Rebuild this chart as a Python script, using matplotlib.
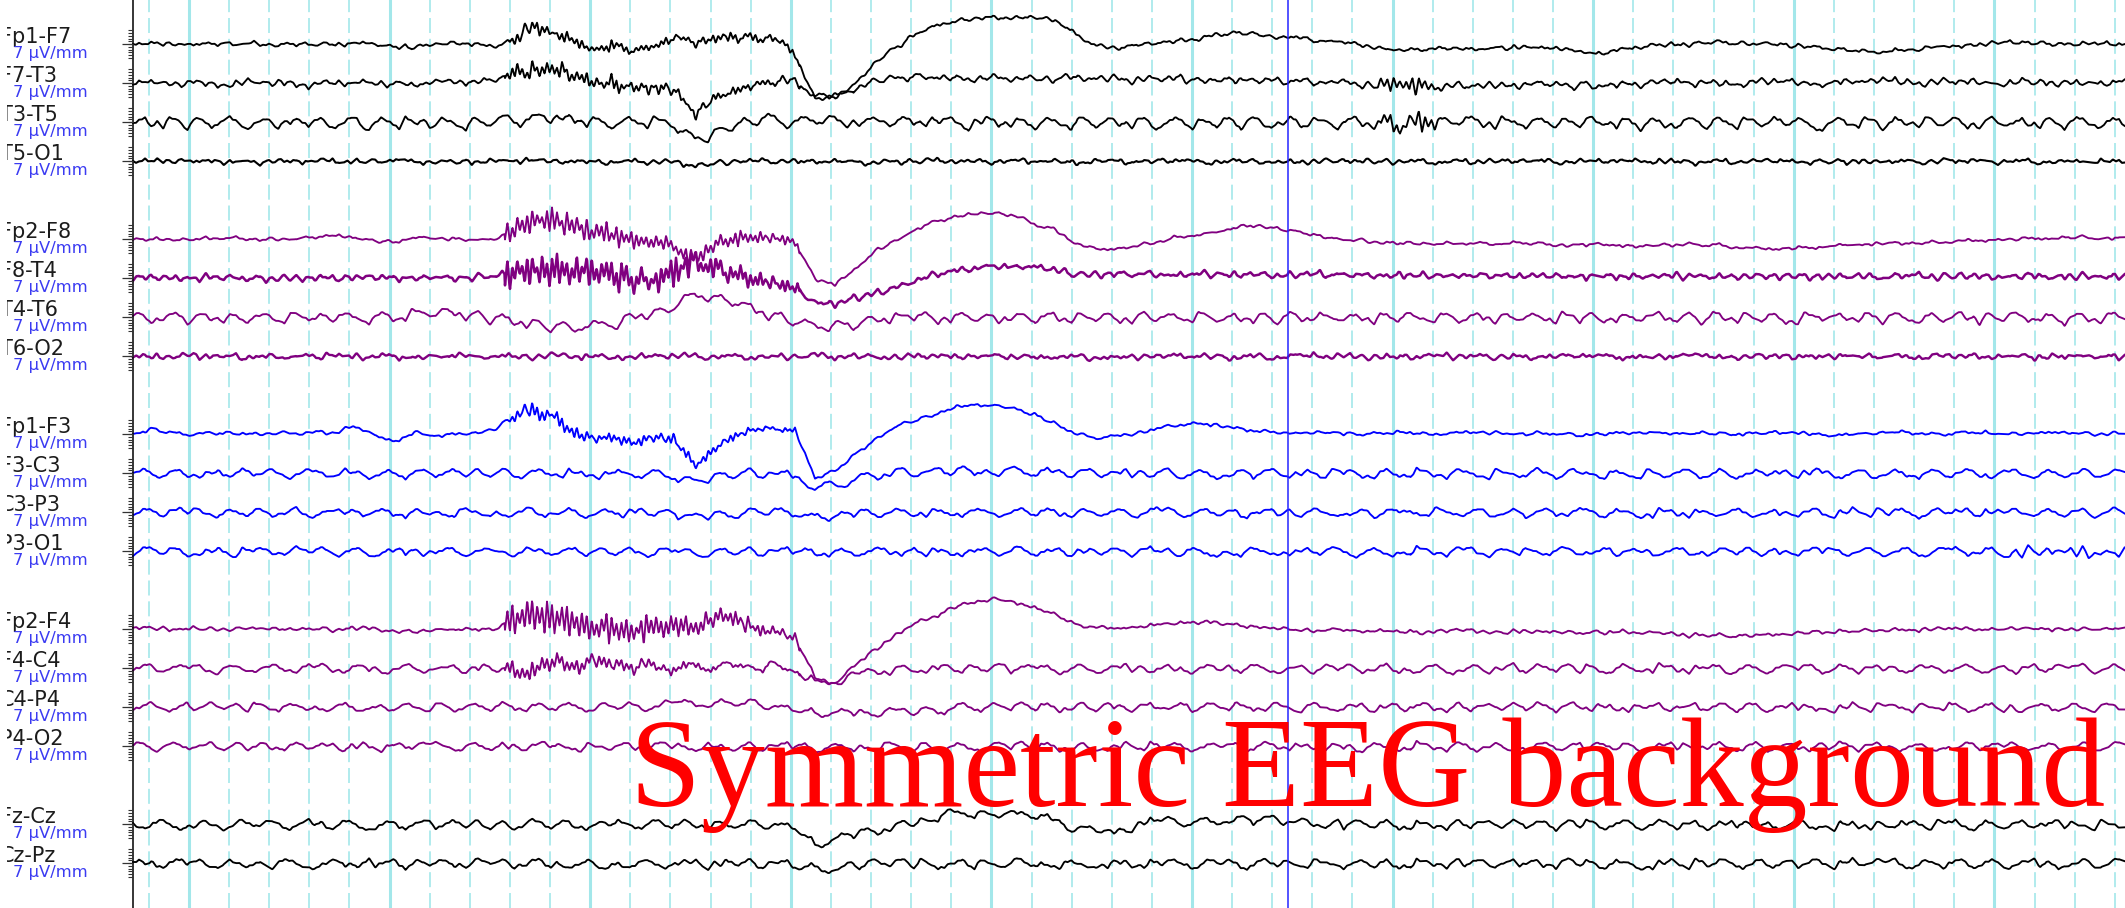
import numpy as np
import matplotlib.pyplot as plt
from matplotlib.transforms import Bbox, TransformedBbox

# ------------------------------------------------------------
# 18-channel bipolar EEG page, 10 s, double banana montage
# ------------------------------------------------------------
W, H, DPI = 2125, 908, 100
PX_S = 200.6          # paper speed in pixels per second
X_AX = 133            # left border of the trace area (px)
ROW0, ROW_H = 44, 39  # baseline of the first slot, slot spacing (px)
T_END = (W - X_AX) / PX_S

channel_names = ["Fp1-F7", "F7-T3", "T3-T5", "T5-O1",
                 "Fp2-F8", "F8-T4", "T4-T6", "T6-O2",
                 "Fp1-F3", "F3-C3", "C3-P3", "P3-O1",
                 "Fp2-F4", "F4-C4", "C4-P4", "P4-O2",
                 "Fz-Cz", "Cz-Pz"]
channel_slots = [0, 1, 2, 3, 5, 6, 7, 8, 10, 11, 12, 13, 15, 16, 17, 18, 20, 21]
chain_of_row = [0, 0, 0, 0, 1, 1, 1, 1, 2, 2, 2, 2, 3, 3, 3, 3, 4, 4]
sensitivity = "7 \u00b5V/mm"

# slow component, one value every 0.1 s (display px, up = positive)
slow_traces = [
    "0 1 0 0 0 1 1 -1 0 0  0 2 0 -3 -2 0 1 0 -2 4  18 10 3 -5 -3 -6 -2 8 2 7  7 6 6 -10 -55 -52 -40 -18 -4 11  18 23 26 27 27 26 24 10 -2 -3  -1 1 3 6 9 11 10 7 8 4  2 0 -3 -6 -5 -4 -5 -5 -3 -3  -3 -4 -7 -10 -5 -3 -1 0 1 2  1 0 0 -1 -3 -5 -7 -8 -6 -4  -3 -2 0 1 2 1 1 0 1 0 0",
    "0 0 1 0 -1 0 1 0 0 -1  0 1 0 -1 -1 1 3 1 3 10  14 14 8 3 -2 -4 -3 -6 -28 -14  -8 -1 4 3 -14 -12 -5 2 6 7  6 5 5 6 5 4 5 6 5 5  4 4 5 4 3 3 4 3 2 2  1 0 -1 -2 -2 -3 -2 -3 -2 -1  -1 0 -2 -3 -1 0 1 2 1 0  0 1 2 1 0 1 2 3 2 1  1 2 1 0 1 2 1 0 1 1 0",
    "-1 0 1 0 0 1 0 -1 0 0  0 1 0 -1 2 0 -1 0 2 4  4 5 3 1 1 0 1 0 -18 -11  -4 3 4 1 2 2 1 0 1 2  1 0 0 1 0 -1 0 1 0 0  1 0 0 -1 0 1 0 0 1 0  0 1 0 -1 0 0 1 2 1 0  0 -1 0 1 0 0 -1 0 1 0  0 1 0 0 -1 0 1 0 0 1  0 0 1 0 -1 0 0 1 0 0 0",
    "0 0 1 0 0 0 -1 0 0 1  0 0 0 1 0 0 -1 0 0 1  1 0 0 0 -1 0 0 -1 -4 -2  0 0 1 0 0 0 -1 -1 0 0  1 0 0 0 1 0 0 -1 0 0  0 0 1 0 0 0 0 -1 0 0  0 1 0 0 0 -1 0 0 0 1  0 0 0 0 1 0 0 0 -1 0  0 0 1 0 0 0 0 -1 0 0  0 1 0 0 0 0 -1 0 0 0 0",
    "0 0 0 0 1 1 0 0 0 2  4 2 -2 -3 2 1 0 0 -1 10  19 19 13 7 4 -1 -3 -8 -22 -6  -1 1 3 -2 -40 -45 -30 -12 -2 10  17 23 26 26 23 15 9 -4 -10 -10  -7 -3 2 4 7 12 14 11 7 4  0 -1 -3 -4 -4 -5 -4 -4 -5 -4  -4 -6 -6 -5 -6 -7 -6 -6 -5 -6  -8 -9 -10 -9 -8 -6 -5 -5 -4 -4  -3 -2 -1 -1 0 1 1 2 1 1 1",
    "0 1 0 0 1 0 0 -1 0 1  0 0 1 0 0 1 0 1 1 6  8 7 7 6 5 -4 -4 7 16 9  2 -2 -4 -8 -25 -26 -20 -16 -9 -3  3 8 10 12 11 11 8 4 3 4  4 4 3 4 4 3 4 3 3 4  3 3 2 3 3 2 2 3 2 2  2 2 1 2 2 1 2 2 1 2  2 1 2 2 1 2 2 1 2 2  1 2 2 1 2 2 1 2 2 1 2",
    "0 0 1 0 0 -1 0 0 1 0  0 0 1 0 4 6 4 2 0 -4  -6 -9 -9 -8 -5 1 4 10 25 19  16 8 2 -4 -8 -8 -6 -2 0 1  0 1 0 -1 0 1 0 0 -1 0  1 0 0 1 0 -1 0 0 1 0  0 -1 0 1 0 0 1 0 -1 0  0 1 0 0 -1 0 1 0 0 1  0 0 -1 0 1 0 0 1 0 -1  0 1 0 0 1 0 -1 0 0 1 0",
    "0 0 0 1 0 0 -1 0 0 0  1 0 0 0 -1 0 1 0 0 0  0 1 0 0 -1 0 0 1 0 0  0 -1 0 0 1 0 0 0 -1 0  0 1 0 0 0 -1 0 0 -2 -1  0 0 1 0 0 -1 0 0 0 1  0 0 -1 0 0 1 0 0 0 -1  0 0 1 0 0 0 -1 0 1 0  0 0 -1 0 0 1 0 0 0 -1  0 1 0 0 0 -1 0 0 1 0 0",
    "0 5 1 0 1 1 0 1 1 2  1 8 0 -8 2 -2 0 1 5 18  22 18 0 -3 -4 -8 -3 -5 -31 -15  0 5 6 4 -44 -37 -20 -6 8 14  20 27 30 28 25 19 10 1 -4 -2  1 5 9 11 9 6 3 2 1 2  1 0 1 2 1 0 1 2 1 0  1 0 -1 0 1 2 1 0 1 1  0 1 2 1 0 -1 0 1 2 1  0 1 2 1 0 1 2 1 0 1 0",
    "0 1 0 0 -1 0 1 0 0 0  1 0 0 -1 0 1 0 0 1 0  0 1 0 0 -1 0 0 -2 -9 -4  0 1 0 -2 -13 -12 -5 -2 2 2  2 3 2 2 3 2 2 1 1 0  0 1 0 0 -1 0 0 1 0 0  0 -1 0 0 1 0 0 -1 0 0  1 0 0 0 -1 0 0 1 0 0  0 -1 0 0 1 0 0 0 -1 0  0 1 0 0 0 -1 0 0 1 0 0",
    "0 0 1 0 0 -1 0 0 1 0  0 1 0 0 -1 0 0 1 0 0  1 0 0 -1 0 0 0 -1 -5 -3  0 0 1 0 -5 -4 -1 0 0 1  0 0 -1 0 0 1 0 0 -1 0  0 1 0 0 0 -1 0 0 1 0  0 0 -1 0 0 1 0 0 0 -1  0 0 1 0 0 -1 0 0 0 1  0 0 -1 0 0 0 1 0 0 -1  0 0 1 0 0 0 -1 0 0 1 0",
    "0 1 0 0 0 -1 0 0 1 0  0 0 -1 0 0 1 0 0 -1 0  0 1 0 0 0 -1 0 0 -2 -1  0 0 1 0 -1 -1 0 0 1 0  0 -1 0 0 1 0 0 0 -1 0  0 1 0 0 -1 0 0 1 0 0  0 -1 0 0 1 0 0 0 -1 0  0 1 0 0 0 -1 0 0 1 0  0 0 -1 0 0 1 0 0 0 -1  0 0 1 0 0 0 -1 0 -1 0 0",
    "2 1 0 1 0 0 1 0 0 1  0 1 0 -2 -2 -1 0 0 0 10  14 12 6 2 0 -2 2 4 0 11  11 1 -1 -8 -48 -54 -36 -20 -6 6  14 22 28 30 27 22 14 5 2 1  2 4 6 8 6 4 2 1 0 -1  -1 -2 -1 -2 -3 -2 -1 -2 -3 -2  -2 -3 -4 -3 -2 -3 -4 -5 -6 -6  -7 -6 -5 -4 -3 -2 -2 -1 -1 0  0 1 0 0 1 0 1 0 0 1 0",
    "0 1 0 0 -1 0 1 0 0 1  0 0 -1 0 1 0 0 0 0 -3  -2 4 5 6 6 3 3 3 3 3  3 3 3 0 -14 -13 -7 -3 -1 0  1 0 0 1 0 0 -1 0 0 1  0 0 -1 0 0 1 0 0 0 -1  0 0 1 0 0 0 -1 0 0 1  0 0 0 -1 0 0 1 0 0 0  -1 0 0 1 0 0 0 -1 0 0  1 0 0 0 -1 0 0 1 0 0 0",
    "1 1 0 1 1 0 1 1 0 1  1 0 1 1 0 1 1 0 1 1  0 1 1 0 1 1 1 4 4 4  4 4 2 -5 -5 -5 -5 -5 -3 -3  -3 0 1 0 1 1 0 1 0 1  1 0 1 0 1 1 0 1 0 1  0 1 0 1 1 0 1 0 1 0  1 0 1 0 0 1 0 1 0 1  0 1 0 0 1 0 1 0 1 0  0 1 0 1 0 0 1 0 1 0 0",
    "1 0 0 1 0 0 -1 0 0 1  0 0 -1 0 1 0 0 0 -1 0  1 0 0 -1 0 0 1 0 0 -1  0 0 1 0 -1 -1 0 0 1 0  0 -1 0 0 1 0 0 -1 0 0  1 0 0 0 -1 0 0 1 0 0  0 -1 0 0 1 0 0 0 -1 0  0 1 0 0 0 -1 0 0 1 0  0 0 -1 0 0 1 0 0 0 -1  0 0 1 0 0 0 -1 0 0 1 0",
    "0 1 0 0 -1 0 1 0 0 1  0 0 -1 0 1 0 0 0 -1 0  1 0 0 -1 0 0 1 0 0 -1  0 0 1 -6 -20 -14 -10 -6 -2 4  8 12 12 12 10 10 4 -4 -6 -9  0 3 3 3 3 5 5 5 3 1  0 1 0 0 -1 0 0 1 0 0  0 -1 0 0 1 0 0 0 -1 0  0 1 0 0 0 -1 0 0 1 0  0 0 -1 0 0 1 0 0 0 -1 0",
    "0 0 1 0 0 -1 0 0 1 0  0 1 0 0 -1 0 0 1 0 0  1 0 0 -1 0 0 0 1 0 -1  0 0 1 -2 -5 -5 -2 0 1 0  0 -1 0 0 1 0 0 -1 0 0  0 1 0 0 0 -1 0 0 1 0  0 0 -1 0 0 1 0 0 0 -1  0 0 1 0 0 -1 0 0 0 1  0 0 -1 0 0 0 1 0 0 -1  0 0 1 0 0 0 -1 0 0 1 0",
]

# background activity across the whole page, digit 5 = baseline
fast_traces = [
    "5546546455 4565465354 6455465465 4564535465 5465463554 6456454655 4565365465 5463546455 6545465354 5564654465 4656354655 5465463545 6455465364 5465545645 4563546465 5645465455 6453564654 5546453656 4565464554 6454635465 5564546455 4653546465 5645455364 6455464655 4563546454 5654645365 4565456455 6455364564 5465456545 4654536465 5546454655 6455465354 5465546455",
    "4657463526 5746352647 4563746352 6574635475 4635746354 7463526475 4647526364 5736452647 4564725364 6452637456 5637452647 3546736452 6475364526 7354637452 6374536475 4625746354 6374526475 3647256364 5736452647 3465725364 7452637456 4736452647 3564736452 6475364526 7354637452 5647364526 4736452657 3645736452 5647354637 4736452647 5364736452 6475363526 4736452657",
    "5673527641 6752467531 4675264753 6742357621 5764275362 4765317642 5763146752 6473527641 3675427653 1576427653 6742576314 6753476425 3676524763 5274675316 4762537642 5764316752 4763526741 3576427652 6741576325 4762376541 5673426751 3674527643 6752417654 2576437652 6743527641 5763425763 1675427652 4763576421 5674327651 4763527643 6752416753 4673527641 5764325763",
    "5465645365 4564635465 5364654635 4656354645 6354656435 4565463546 5645364654 6354645635 4656435465 6354645635 5465643546 4563546465 6354645365 4656354564 6435465635 5465463546 4656354645 6354656435 4565463546 5645364654 6354645635 4656435465 6354645635 5465643546 4563546465 5364645635 4656354564 6354645365 4563546465 5465643546 6354656435 4656435465 5645364654",
    "5545645455 4564545654 5456455465 4554645456 5465454564 5546545456 4565455465 5456454564 5645545654 4556454565 5465545456 4564554645 5456465545 4565455464 5546455654 4564545465 5456455645 4565454564 5546545456 4565455465 5456454564 5645545654 4556454565 5465545456 4564554645 5546455654 4565454564 5456465545 4564545465 5645545654 4556454565 5465545456 4565455465",
    "4647364736 5374637463 5736474635 3746374657 3647365473 6473563746 4735647364 7365473647 3564736475 3647365736 4736547364 7356473647 3657364735 6473564736 4753647365 7364735647 3647536473 5647364735 6473654736 4735647365 7364736547 3647356473 6547364736 4756473647 3654736475 4736473657 5364736475 4637456374 6473564735 3746574637 5473647365 4637465374 6374563746",
    "6752436751 4763527642 5674317653 4752676431 5763427652 3674526741 5763527641 6752347653 1674526743 5763426752 4673516742 5764327651 4673527653 6741526753 4762537641 5673427653 6752416743 5764327652 4673526741 5762437653 4673517642 6754327651 3674526743 5763417652 6742537643 5673426751 4763527642 6752317653 4673527641 5764326752 4673517643 6752437641 5763426753",
    "5464635465 6354645635 4656435465 5364654635 4656354645 6354656435 4565463546 5645364654 6354645635 4656435465 6354645635 5465643546 4563546465 6354645365 4656354564 6435465635 5465463546 4656354645 6354656435 4565463546 5645364654 6354645635 4656435465 6354645635 5465643546 4563547465 6354635465 4657354645 5364645635 4656354574 6354645365 4565364654 5646354635",
    "5546545654 4565456455 6454565445 5645465546 4556454654 5465546455 4654565446 5546454565 6455465546 4565455654 5464565455 4655465546 5456454654 5645546455 4556465546 5465454654 4565546455 5645465546 4556454654 5465546455 4654565446 5546454565 6455465546 4565455654 5464565455 4655465546 5456454654 5645546455 4556465546 5465454654 4565546455 5645465546 4556454654",
    "5674235763 4265743576 3467532467 6532475642 3576425674 2467536742 5763246753 4275634265 7643257643 2576436752 4673254673 5324675324 6752436742 3567425763 4632576432 5746325674 2465736524 6742357642 4357624675 3264753276 5763426753 4276534267 6543276543 3675423675 5432675432 7642356742 3576324576 4657326475 6324576324 5763425764 2457634257 6743257643 4576324675",
    "3576425674 7643257643 6752436742 2465736524 5763426753 5432675432 6324576324 4576324675 4265743576 2467536742 2576436752 3567425763 6742357642 4276534267 7642356742 5763425764 3467532467 5763246753 4673254673 4632576432 4357624675 6543276543 3576324576 2457634257 6532475642 4275634265 5324675324 5746325674 3264753276 3675423675 4657326475 6743257643 5674235763",
    "2576436752 3264753276 5763425764 5763246753 2465736524 3576324576 6532475642 3567425763 3675423675 5674235763 4673254673 5763426753 2457634257 4275634265 6742357642 4657326475 3576425674 4632576432 5432675432 4265743576 5324675324 4276534267 6743257643 7643257643 4357624675 6324576324 2467536742 5746325674 7642356742 3467532467 6752436742 2618437465 7281536427",
    "5465463554 6456454655 5546546455 4563546465 6455465364 5645465455 4565365465 4656354655 6545465354 5564654465 5465545645 4564535465 5463546455 6453564654 5465463545 4565465354 6455465465 5546453656 4565464554 6454635465 5564546455 4653546465 5645455364 6455464655 4563546454 5654645365 4565456455 6455364564 5465456545 4654536465 5546454655 6455465354 5465546455",
    "4576324675 6743257643 2457634257 5763425764 6324576324 4657326475 3576324576 7642356742 5432675432 3675423675 6543276543 4276534267 5763426753 3264753276 4357624675 6742357642 2465736524 5746325674 4632576432 3567425763 6752436742 5324675324 4673254673 2576436752 7643257643 4275634265 5763246753 2467536742 3576425674 6532475642 3467532467 4265743576 5674235763",
    "3467532467 2467536742 7643257643 5324675324 4632576432 6742357642 5763426753 3675423675 3576324576 5763425764 4576324675 5674235763 6532475642 5763246753 2576436752 6752436742 5746325674 4357624675 4276534267 5432675432 4657326475 2457634257 4265743576 3576425674 4275634265 4673254673 3567425763 2465736524 3264753276 6543276543 7642356742 6324576324 6743257643",
    "5763246753 3567425763 5763426753 4657326475 4265743576 7643257643 5746325674 6543276543 5763425764 6532475642 4673254673 6742357642 5432675432 6743257643 2467536742 6752436742 3264753276 3576324576 5674235763 4275634265 4632576432 4276534267 6324576324 3467532467 2576436752 2465736524 3675423675 2457634257 3576425674 5324675324 4357624675 7642356742 4576324675",
    "5324675324 3675423675 3467532467 4632576432 3576324576 2467536742 6742357642 5763425764 7643257643 5763426753 4576324675 5674235763 6752436742 5432675432 6532475642 5746325674 4657326475 5763246753 4357624675 2457634257 2576436752 4276534267 4265743576 3567425763 7642356742 3576425674 2465736524 6324576324 4275634265 3264753276 6743257643 4673254673 6543276543",
    "5746325674 6743257643 4632576432 2457634257 3567425763 5763425764 6752436742 6324576324 5324675324 4657326475 4673254673 3576324576 2576436752 7642356742 7643257643 5432675432 4275634265 3675423675 5763246753 6543276543 2467536742 4276534267 3576425674 5763426753 6532475642 3264753276 3467532467 4357624675 4265743576 6742357642 5674235763 2465736524 4576324675",
]
fast_gain = [1.5, 1.6, 2.1, 1.5, 1.3, 1.5, 1.9, 1.6, 1.3,
             1.8, 1.7, 1.7, 1.3, 1.7, 1.7, 1.7, 1.8, 1.8]

# low-voltage fast activity riding on each chain (about 3 px per sample)
jitter_traces = [
    "5465645465 4654565456 5645465645 4564654565 6545465456 4656454645 5456546465 4645645456 5465465645 6454564654 4565465456 5646545465 4545654645 6465456456 5456465645 4654545465 6545646456 4565456545 5646454654 4545665456 5465645465 6454565456 4645465645 5564654565 4545465456 6656454645 4456546465 5645645456 6465465645 4454564654 5565465456 4646545465 6545654645 4465456456 5656465645 5454545465 4645646456 6565456545 4446454654 5545665456 6465645465 4454565456 5545465645 6564654565 4645465456 5556454645 6456546465 4545645456 5665465645 6454564654 5465465456 4646545465 5645654645 4465456456 6556465645 4554545465 5445646456 6465456545 5646454654 4545665456 5465645465 4654565456 5645465645 4564654565 6545465456 4656454645",
    "4656454645 6545465456 4564654565 5645465645 4654565456 5465645465 6454564654 5465465645 4645645456 5456546465 4545665456 5646454654 4565456545 6545646456 4654545465 5456465645 6465456456 4545654645 5646545465 4565465456 4454564654 6465465645 5645645456 4456546465 6656454645 4545465456 5564654565 4645465645 6454565456 5465645465 5545665456 4446454654 6565456545 4645646456 5454545465 5656465645 4465456456 6545654645 4646545465 5565465456 6454564654 5665465645 4545645456 6456546465 5556454645 4645465456 6564654565 5545465645 4454565456 6465645465 4656454645 6545465456 4564654565 5645465645 4654565456 5465645465 4545665456 5646454654 6465456545 5445646456",
    "5546465645 4654645456 6456546465 4546454654 5654565456 4465465645 6545645465 5456454645 4645465456 6564546465 5446545654 4565456456 6456465545 5645454654 4554646456 6465545465 4546456545 5654565464 6445465645 4566454656 5454645465 6545456456 4656546545 5465454654 4546465465 6454645456 5565465645 4646454654 6454565456 5565645465 4446546465 6655454645 4546465456 5464546465 6546545654 4455456456 5666465545 4545454654 6454646456 5465545465 4656456545 6545565464 4465465645 5566454656 6454645465 4545456456 5656546545 6465454654 4546465465 5454645456 6565465645 4446454654 5654565456 6465645465 4556546465 5645454645 4444465456 6664546465 5446545654 4565456456",
    "4645465456 6564546465 5446545654 4565456456 6456465545 5645454654 4554646456 6465545465 4546456545 5654565464 5546465645 4654645456 6456546465 4546454654 5654565456 4465465645 6545645465 5456454645 6445465645 4566454656 5454645465 6545456456 4656546545 5465454654 4546465465 6454645456 5565465645 4646454654 6454565456 5565645465 4446546465 6655454645 4546465456 5464546465 6546545654 4455456456 5666465545 4545454654 6454646456 5465545465 4656456545 6545565464 4465465645 5566454656 6454645465 4545456456 5656546545 6465454654 4546465465 5454645456 6565465645 4446454654 5654565456 6465645465 4556546465 5645454645 4444465456 6664546465 5446545654 4565456456",
    "6456546465 4546454654 5654565456 4465465645 6545645465 5456454645 5546465645 4654645456 4645465456 6564546465 5446545654 4565456456 6456465545 5645454654 4554646456 6465545465 4546456545 5654565464 6445465645 4566454656 5454645465 6545456456 4656546545 5465454654 4546465465 6454645456 5565465645 4646454654 6454565456 5565645465 4446546465 6655454645 4546465456 5464546465 6546545654 4455456456 5666465545 4545454654 6454646456 5465545465 4656456545 6545565464 4465465645 5566454656 6454645465 4545456456 5656546545 6465454654 4546465465 5454645456 6565465645 4446454654 5654565456 6465645465 4556546465 5645454645 4444465456 6664546465 5446545654 4565456456",
]
jitter_gain = [0.9, 1.0, 1.0, 1.1, 0.8, 1.4, 0.9, 1.4, 0.8,
               0.9, 0.9, 0.9, 0.8, 0.9, 0.9, 0.9, 1.0, 1.0]

# muscle artefact bursts: row, start (s), end (s), gain, samples
burst_rows = [0, 1, 4, 5, 8, 12, 13, 1, 2]
burst_start = [1.854, 1.854, 1.854, 1.854, 1.854, 1.854, 1.854, 6.19, 6.19]
burst_end = [3.325, 3.325, 3.325, 3.325, 3.325, 3.325, 3.325, 6.52, 6.52]
burst_gain = [2.2, 2.3, 3.0, 3.8, 2.3, 3.8, 2.5, 2.0, 2.2]
burst_traces = [
    "5546374695 3748263745 5647384657 3746354657 4638465746 3546574635 4657463546 5464645354 6354736465 3746354657 4635465746 5465746354",
    "4637284736 2847362847 3628473526 4738264735 3648372645 4736354736 4637465354 6364546354 6454636454 5463645464 5454645454 5465454554",
    "3816294728 1937462819 2846193728 4719263847 2936481736 4827364736 3746385746 4637285647 3846375846 3647385746 4637465364 5463645364",
    "2917384629 1846293718 3928471639 2748193627 4837261948 3627485736 4728364819 3647285736 4637285746 3746584637 4637465364 5463645364",
    "5546374695 3948263745 4837264738 4637465364 5473645374 6354637465 3647546374 5463746354 6374635465 4636455464 5465465454 5546454655",
    "3829174829 2918370928 1738291837 2938173627 4918362738 2736481937 3847263847 2748364736 3846375846 4637465374 5463645464 5465454654",
    "4738263847 2937483726 3847263748 2637485263 7485364736 4736475364 6354645364 5463545464 5454645455 5545454555 5455454555 5545455454",
    "5374829364 7281937463 55",
    "5647382736 4852918374 65",
]

row_colors = (["#000000"] * 4 + ["#800080"] * 4 + ["#0000ff"] * 4
              + ["#800080"] * 4 + ["#000000"] * 2)
row_widths = [1.35] * 18
row_widths[3] = 1.5
row_widths[5] = 1.8
row_widths[7] = 1.7


def ints(s):
    return np.array(s.split(), float)


def digits(s):
    return np.array([int(c) - 5 for c in s if c.isdigit()], float)


def px2t(x):
    return (x - X_AX) / PX_S


fig = plt.figure(figsize=(W / DPI, H / DPI), dpi=DPI)
ax = fig.add_axes([0, 0, 1, 1])
ax.set_xlim(px2t(0), px2t(W))
ax.set_ylim(H, 0)
ax.axis("off")

# 0.2 s grid, every second drawn solid
grid_c = "#a3e7ea"
for n in range(-1, 49):
    tg = px2t(189) + 0.2 * n
    if n % 5 == 0:
        ax.axvline(tg, color=grid_c, lw=2.2, zorder=1)
    else:
        ax.axvline(tg, color=grid_c, lw=1.2, ls=(0, (9, 3.5)), zorder=1)

ax.axvline(0, color="black", lw=1.1, zorder=4)
ax.axvline(px2t(1288), color="#2424ff", lw=1.1, zorder=6)

clip = TransformedBbox(Bbox([[7 / W, 0], [1, 1]]), fig.transFigure)
t = np.arange(0, T_END, 0.5 / PX_S)
for i, name in enumerate(channel_names):
    base = ROW0 + ROW_H * channel_slots[i]
    sv = ints(slow_traces[i])
    fv = digits(fast_traces[i])
    jv = digits(jitter_traces[chain_of_row[i]])
    y = np.interp(t, 0.1 * np.arange(len(sv)), sv)
    y += fast_gain[i] * np.interp(t, np.linspace(0, T_END, len(fv)), fv)
    y += jitter_gain[i] * np.interp(t, np.linspace(0, T_END, len(jv)), jv)
    for r, b0, b1, g, s in zip(burst_rows, burst_start, burst_end,
                               burst_gain, burst_traces):
        if r == i:
            bv = digits(s)
            y += g * np.interp(t, np.linspace(b0, b1, len(bv)), bv,
                               left=0, right=0)
    ax.plot(t, base - y, color=row_colors[i], lw=row_widths[i],
            solid_joinstyle="round", zorder=3)

    # amplitude ruler next to the baseline
    ticks = base + 2.75 * np.arange(-5, 6)
    ax.hlines(ticks, px2t(127.5), 0, color="#333333", lw=0.8, zorder=4)
    ax.hlines(base, px2t(122), 0, color="#333333", lw=0.9, zorder=4)

    tx = ax.text(px2t(0), base - 1, name, fontsize=15, color="#1c1c1c",
                 family="DejaVu Sans", va="baseline", ha="left")
    tx.set_clip_box(clip)
    tx.set_clip_on(True)
    ax.text(px2t(13), base + 14, sensitivity, fontsize=11.8, color="#3b3bf2",
            family="DejaVu Sans", va="baseline", ha="left")

ax.text(px2t(630), 806, "Symmetric EEG background", fontsize=92,
        color="#ff0000", family="Liberation Serif", va="baseline",
        ha="left", zorder=7)

fig.savefig("out.png", dpi=DPI)
